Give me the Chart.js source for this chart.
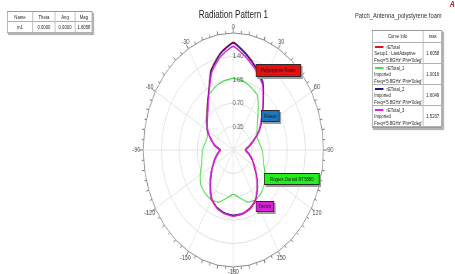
<!DOCTYPE html>
<html>
<head>
<meta charset="utf-8">
<script src="https://cdn.jsdelivr.net/npm/chart.js@4.4.1/dist/chart.umd.min.js"></script>
<style>
  html, body { margin:0; padding:0; background:#fff; overflow:hidden; }
  body { width:455px; height:274px; position:relative; font-family:'Liberation Sans', Arial, sans-serif; color:#222; }
  /* the reference is squeezed horizontally, so draw wide and squeeze */
  #stage { position:absolute; left:0; top:0; width:591px; height:274px; transform:scaleX(0.77); transform-origin:0 0; }
  #stage canvas { position:absolute; left:0; top:0; }
  .abs { position:absolute; }
  .grid { display:grid; border:1px solid #9a9a9a; box-sizing:border-box; background:#fff; box-shadow:2px 2px 1px #b5b5b5; }
  .grid > div { border-right:1px solid #b0b0b0; border-bottom:1px solid #b0b0b0; box-sizing:border-box; font-size:5.5px; overflow:hidden; white-space:nowrap; }
  .c { text-align:center; }
  #marker { left:9px; top:11px; width:111px; height:22px; grid-template-columns:33px 29px 26px 23px; grid-template-rows:10px 11px; }
  #marker > div { line-height:10px; }
  #legend { left:483px; top:30px; width:91px; height:98px; grid-template-columns:66px 25px; grid-template-rows:12px 21px 21px 21px 21px; }
  #legend .hd { line-height:11px; }
  #legend .info { padding:1px 0 0 2px; line-height:6.4px; }
  #legend .mx { display:flex; align-items:center; justify-content:center; }
  .sw { display:inline-block; width:11px; height:1.5px; vertical-align:middle; margin:0 4px 1px 1px; }
  #title { left:203px; width:200px; top:8px; text-align:center; font-size:10.5px; color:#222; }
  #project { left:461px; top:11px; font-size:7.5px; color:#333; white-space:nowrap; }
  #logo { left:584px; top:-1px; font-size:9px; font-weight:bold; font-style:italic; color:#d01010; }
  .tag { position:absolute; border:1px solid #2a2a2a; box-shadow:2px 2px 0 #9c9c9c; font-size:5.5px; text-align:center; white-space:nowrap; color:#201010; box-sizing:border-box; }
</style>
</head>
<body>
<div id="stage">
  <canvas id="polar" width="591" height="274"></canvas>
  <div id="title" class="abs">Radiation Pattern 1</div>
  <div id="project" class="abs">Patch_Antenna_polystyrene foam</div>
  <div id="logo" class="abs">A</div>
  <div id="marker" class="abs grid"></div>
  <div id="legend" class="abs grid"></div>
  <div id="tags"></div>
</div>
<script>
/* ── Data (angles in degrees, clockwise from top) ── */
const angleCats = [0, 10, 20, 30, 40, 50, 60, 70, 80, 90, 100, 110, 120, 130, 140, 150, 160, 170,
                   180, 190, 200, 210, 220, 230, 240, 250, 260, 270, 280, 290, 300, 310, 320, 330, 340, 350];

const rETotal   = [1.61, 1.46, 1.31, 1.16, 0.91, 0.73, 0.58, 0.42, 0.30, 0.23, 0.30, 0.38, 0.46, 0.58, 0.72, 0.86, 0.93, 0.97,
                   0.98, 0.96, 0.92, 0.84, 0.69, 0.56, 0.45, 0.37, 0.30, 0.25, 0.36, 0.46, 0.58, 0.68, 0.79, 0.97, 1.27, 1.47];
const rETotal_1 = [1.07, 1.05, 1.00, 0.94, 0.75, 0.61, 0.53, 0.50, 0.52, 0.56, 0.59, 0.63, 0.71, 0.79, 0.84, 0.86, 0.83, 0.73,
                   0.66, 0.73, 0.83, 0.86, 0.85, 0.82, 0.74, 0.66, 0.62, 0.60, 0.56, 0.54, 0.58, 0.67, 0.80, 0.95, 1.01, 1.05];
const rETotal_2 = [1.60, 1.45, 1.30, 1.15, 0.90, 0.72, 0.58, 0.42, 0.31, 0.24, 0.30, 0.38, 0.47, 0.59, 0.73, 0.87, 0.94, 0.97,
                   0.98, 0.96, 0.92, 0.85, 0.70, 0.57, 0.46, 0.38, 0.31, 0.26, 0.36, 0.46, 0.58, 0.67, 0.78, 0.96, 1.26, 1.46];
const rETotal_3 = [1.55, 1.41, 1.27, 1.13, 0.89, 0.71, 0.57, 0.42, 0.31, 0.24, 0.31, 0.39, 0.47, 0.59, 0.73, 0.87, 0.94, 0.97,
                   0.99, 0.97, 0.93, 0.85, 0.70, 0.57, 0.46, 0.38, 0.31, 0.26, 0.36, 0.46, 0.57, 0.66, 0.77, 0.95, 1.23, 1.42];

const radialTicks   = [0.35, 0.70, 1.05, 1.40];
const angleTickDeg  = [0, 30, 60, 90, 120, 150, 180, 210, 240, 270, 300, 330];
const angleTickText = ['0', '30', '60', '90', '120', '150', '-180', '-150', '-120', '-90', '-60', '-30'];

const curveNames   = ['rETotal', 'rETotal_1', 'rETotal_2', 'rETotal_3'];
const curveSources = ['Setup1 : LastAdaptive', 'Imported', 'Imported', 'Imported'];
const curveFreq    = ["Freq='5.8GHz' Phi='0deg'", "Freq='5.8GHz' Phi='0deg'", "Freq='5.8GHz' Phi='0deg'", "Freq='5.8GHz' Phi='0deg'"];
const curveMax     = ['1.6058', '1.0016', '1.6049', '1.5237'];

const markerHead = ['Name', 'Theta', 'Ang', 'Mag'];
const markerRow  = ['m1', '0.0000', '0.0000', '1.6058'];

const tagTexts = ['Polystyrene Foam', 'Fleece', 'Rogers Duroid RT5880', 'Denim'];

/* ── Styles ── */
const curveColors = ['#e0141c', '#45dd45', '#1c1c8a', '#e020e0'];
const curveOrder  = [2, 3, 1, 0];
const tagStyles = [
  { left: 332, top: 64,  w: 59, h: 13, bg: '#e21010' },
  { left: 339, top: 110, w: 24, h: 12, bg: '#1a78c2' },
  { left: 343, top: 173, w: 72, h: 12, bg: '#22ee22' },
  { left: 332, top: 201, w: 24, h: 11, bg: '#d820d8' }
];

/* ── Marker table + legend ── */
function buildTables() {
  const m = document.getElementById('marker');
  m.innerHTML = markerHead.concat(markerRow).map(t => `<div class="c">${t}</div>`).join('');

  const lg = document.getElementById('legend');
  let html = '<div class="c hd">Curve Info</div><div class="c hd">max</div>';
  curveNames.forEach((n, i) => {
    html += `<div class="info"><span class="sw" style="background:${curveColors[i]}"></span>${n}<br>${curveSources[i]}<br>${curveFreq[i]}</div>`;
    html += `<div class="mx">${curveMax[i]}</div>`;
  });
  lg.innerHTML = html;

  const tags = document.getElementById('tags');
  tags.innerHTML = tagTexts.map((t, i) => {
    const s = tagStyles[i];
    return `<div class="tag" style="left:${s.left}px;top:${s.top}px;width:${s.w}px;height:${s.h}px;line-height:${s.h - 2}px;background:${s.bg}">${t}</div>`;
  }).join('');
}

/* ── Outer ring ticks, angle labels, radial labels ── */
const polarDecor = {
  id: 'polarDecor',
  afterDraw(chart) {
    const sc = chart.scales.r;
    const ctx = chart.ctx;
    const cx = sc.xCenter, cy = sc.yCenter, R = sc.drawingArea;
    ctx.save();
    ctx.strokeStyle = '#6e6e6e';
    ctx.lineWidth = 1;
    for (let d = 0; d < 360; d += 5) {
      const a = d * Math.PI / 180 - Math.PI / 2;
      const len = d % 30 === 0 ? 5 : (d % 10 === 0 ? 3.5 : 2.5);
      ctx.beginPath();
      ctx.moveTo(cx + Math.cos(a) * R, cy + Math.sin(a) * R);
      ctx.lineTo(cx + Math.cos(a) * (R + len), cy + Math.sin(a) * (R + len));
      ctx.stroke();
    }
    ctx.font = '7px "Liberation Sans", Arial, sans-serif';
    ctx.fillStyle = '#444';
    ctx.textAlign = 'center';
    ctx.textBaseline = 'middle';
    angleTickDeg.forEach((d, i) => {
      const a = d * Math.PI / 180 - Math.PI / 2;
      const lr = R + 5.5 + 3.5 * Math.abs(Math.cos(a));
      ctx.fillText(angleTickText[i], cx + Math.cos(a) * lr, cy + Math.sin(a) * lr);
    });
    ctx.fillStyle = '#555';
    radialTicks.forEach(v => {
      const y = cy - sc.getDistanceFromCenterForValue(v);
      ctx.fillText(v.toFixed(2), cx + 6, y);
    });
    ctx.restore();
  }
};

function drawPolar() {
  const el = document.getElementById('polar');
  new Chart(el, {
    type: 'radar',
    data: {
      labels: angleCats,
      datasets: [rETotal, rETotal_1, rETotal_2, rETotal_3].map((d, i) => ({
        label: curveNames[i],
        data: d,
        borderColor: curveColors[i],
        borderWidth: i === 1 ? 1.2 : 1.6,
        fill: false,
        order: curveOrder[i],
      }))
    },
    options: {
      responsive: false,
      animation: false,
      events: [],
      layout: { padding: { left: 186, right: 170, top: 33, bottom: 6 } },
      elements: { point: { radius: 0 }, line: { tension: 0.15 } },
      plugins: { legend: { display: false }, tooltip: { enabled: false } },
      scales: {
        r: {
          min: 0, max: 1.75,
          ticks: { display: false, stepSize: 0.35 },
          pointLabels: { display: false },
          grid: { color: c => (c.tick && c.tick.value > 1.7) ? '#8a8a8a' : '#e0e0e0', lineWidth: 1 },
          angleLines: { color: c => c.index % 3 === 0 ? '#e4e4e4' : 'rgba(0,0,0,0)' }
        }
      }
    },
    plugins: [polarDecor]
  });
}

buildTables();
drawPolar();
</script>
</body>
</html>
